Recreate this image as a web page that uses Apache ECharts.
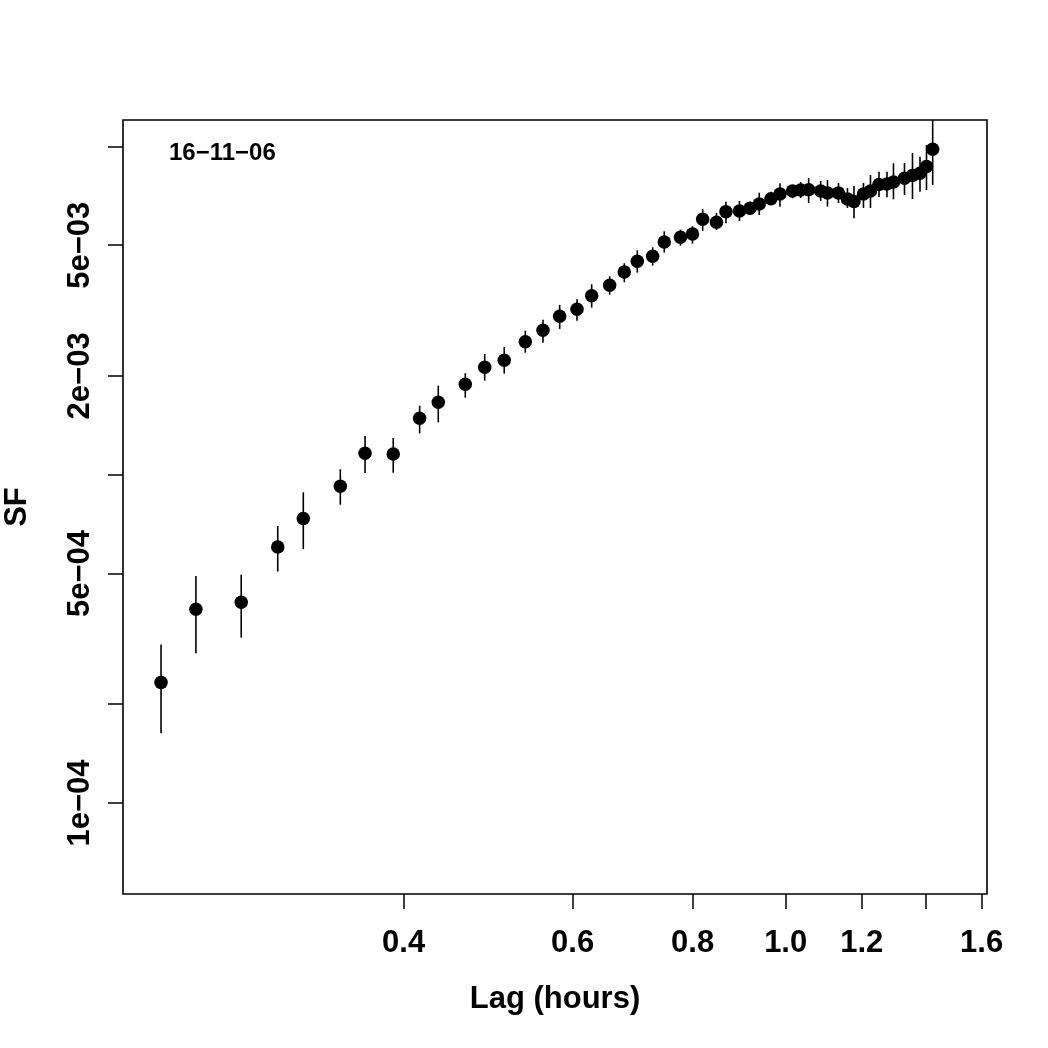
<!DOCTYPE html>
<html lang="en">
<head>
<meta charset="UTF-8">
<title>SF 16-11-06</title>
<style>
    html, body { margin: 0; padding: 0; background: #fff; }
    #main { width: 1048px; height: 1048px; }
</style>
<script src="https://cdn.jsdelivr.net/npm/echarts@6/dist/echarts.min.js"></script>
</head>
<body>
<div id="main"></div>
<script type="text/javascript">
    // lag (hours)
    var lag = [0.2236, 0.2431, 0.2710, 0.2958, 0.3145, 0.3437, 0.3647, 0.3902, 0.4157, 0.4347,
               0.4638, 0.4859, 0.5092, 0.5356, 0.5588, 0.5816, 0.6063, 0.6280, 0.6557, 0.6791,
               0.7006, 0.7269, 0.7474, 0.7770, 0.7997, 0.8195, 0.8471, 0.8666, 0.8951, 0.9179,
               0.9386, 0.9653, 0.9864, 1.0165, 1.0366, 1.0567, 1.0876, 1.1054, 1.1350, 1.1597,
               1.1780, 1.2051, 1.2255, 1.2508, 1.2750, 1.2950, 1.3297, 1.3554, 1.3800, 1.4017,
               1.4227];
    // structure function, in units of 1e-4
    var sf = [2.33, 3.89, 4.09, 6.02, 7.36, 9.22, 11.62, 11.56, 14.86, 16.62,
              18.85, 21.25, 22.31, 25.42, 27.54, 30.38, 31.91, 35.10, 37.75, 41.45,
              44.68, 46.27, 51.15, 52.86, 54.10, 59.98, 58.73, 63.28, 63.59, 64.80,
              66.77, 69.29, 71.60, 73.12, 73.63, 73.79, 73.12, 72.10, 72.10, 69.15,
              67.95, 71.60, 73.12, 76.55, 76.82, 77.90, 79.95, 81.54, 82.80, 86.85,
              97.99];
    // error bar ends, same units
    var sfLow = [1.63, 2.86, 3.19, 5.07, 5.93, 8.10, 10.12, 10.14, 13.37, 14.44,
                 17.16, 19.33, 20.31, 23.53, 25.24, 27.79, 29.45, 32.27, 35.35, 38.55,
                 41.25, 43.32, 47.46, 49.84, 50.54, 55.26, 55.65, 58.32, 59.27, 61.81,
                 61.81, 66.30, 65.54, 69.49, 69.64, 67.24, 68.19, 65.54, 67.24, 64.94,
                 60.38, 64.94, 64.94, 70.13, 69.98, 69.00, 71.10, 69.15, 72.76, 73.63,
                 76.28];
    var sfHigh = [3.04, 4.91, 4.96, 6.98, 8.84, 10.39, 13.12, 12.94, 16.23, 18.67,
                  20.37, 23.32, 24.49, 27.46, 29.66, 32.89, 34.23, 38.02, 40.22, 44.06,
                  48.26, 49.28, 55.14, 55.76, 57.11, 64.49, 62.71, 67.85, 68.19, 67.85,
                  72.25, 72.76, 77.19, 76.28, 77.90, 80.12, 78.45, 79.00, 77.36, 74.67,
                  75.75, 77.36, 81.82, 83.74, 83.74, 88.82, 89.00, 95.46, 93.01, 100.98,
                  129.1];

    var xTicks = [0.4, 0.6, 0.8, 1.0, 1.2, 1.4, 1.6];
    var xTickLabels = ['0.4', '0.6', '0.8', '1.0', '1.2', '', '1.6'];
    var yTicks = [1e-4, 2e-4, 5e-4, 1e-3, 2e-3, 5e-3, 1e-2];
    var yTickLabels = ['1e\u221204', '', '5e\u221204', '', '2e\u221203', '5e\u221203', ''];

    var xRange = [0.2041, 1.6206];
    var yRange = [5.282e-5, 1.2034e-2];

    var FONT = '"Liberation Sans", Arial, Helvetica, sans-serif';
    var log = Math.log10;

    function labelled(ticks, labels) {
        var out = [];
        for (var i = 0; i < ticks.length; i++) {
            if (labels[i]) out.push(log(ticks[i]));
        }
        return out;
    }
    function fmt(ticks, labels) {
        return function (v) {
            for (var i = 0; i < ticks.length; i++) {
                if (Math.abs(log(ticks[i]) - v) < 1e-6) return labels[i];
            }
            return '';
        };
    }

    var points = [], bars = [];
    for (var i = 0; i < lag.length; i++) {
        points.push([log(lag[i]), log(sf[i] * 1e-4)]);
        bars.push([log(lag[i]), log(sfLow[i] * 1e-4), log(sfHigh[i] * 1e-4)]);
    }

    var myChart = echarts.init(document.getElementById('main'));

    var option = {
        animation: false,
        backgroundColor: '#fff',
        grid: {
            left: 123, right: 61, top: 120, bottom: 154,
            show: true, borderColor: '#000', borderWidth: 1.6,
            containLabel: false, outerBoundsMode: 'none'
        },
        xAxis: {
            type: 'value',
            min: log(xRange[0]), max: log(xRange[1]),
            name: 'Lag (hours)', nameLocation: 'middle', nameGap: 90,
            nameTextStyle: { fontFamily: FONT, fontWeight: 'bold', fontSize: 31, color: '#000' },
            axisLine: { show: false, onZero: false },
            splitLine: { show: false },
            axisTick: { show: true, length: 15, lineStyle: { color: '#000', width: 1.5 },
                        customValues: xTicks.map(log) },
            axisLabel: { fontFamily: FONT, fontWeight: 'bold', fontSize: 31, color: '#000', margin: 34,
                         customValues: labelled(xTicks, xTickLabels), formatter: fmt(xTicks, xTickLabels) }
        },
        yAxis: {
            type: 'value',
            min: log(yRange[0]), max: log(yRange[1]),
            name: 'SF', nameLocation: 'middle', nameGap: 90,
            nameTextStyle: { fontFamily: FONT, fontWeight: 'bold', fontSize: 31, color: '#000' },
            axisLine: { show: false, onZero: false },
            splitLine: { show: false },
            axisTick: { show: true, length: 15, lineStyle: { color: '#000', width: 1.5 },
                        customValues: yTicks.map(log) },
            axisLabel: { fontFamily: FONT, fontWeight: 'bold', fontSize: 31, color: '#000', margin: 27, rotate: 90,
                         customValues: labelled(yTicks, yTickLabels), formatter: fmt(yTicks, yTickLabels) }
        },
        graphic: [{
            type: 'text', left: 169, top: 141,
            style: { text: '16\u221211\u221206', font: 'bold 24px ' + FONT, fill: '#000' }
        }],
        series: [{
            type: 'custom',
            name: 'err',
            data: bars,
            clip: true,
            renderItem: function (params, api) {
                var a = api.coord([api.value(0), api.value(1)]);
                var b = api.coord([api.value(0), api.value(2)]);
                var top = params.coordSys.y;
                return {
                    type: 'line',
                    shape: { x1: a[0], y1: a[1], x2: b[0], y2: Math.max(b[1], top) },
                    style: { stroke: '#000', lineWidth: 1.6 }
                };
            }
        }, {
            type: 'scatter',
            name: 'SF',
            data: points,
            symbol: 'circle',
            symbolSize: 13.5,
            itemStyle: { color: '#000', opacity: 1 },
            z: 3
        }]
    };

    myChart.setOption(option);
</script>
</body>
</html>
